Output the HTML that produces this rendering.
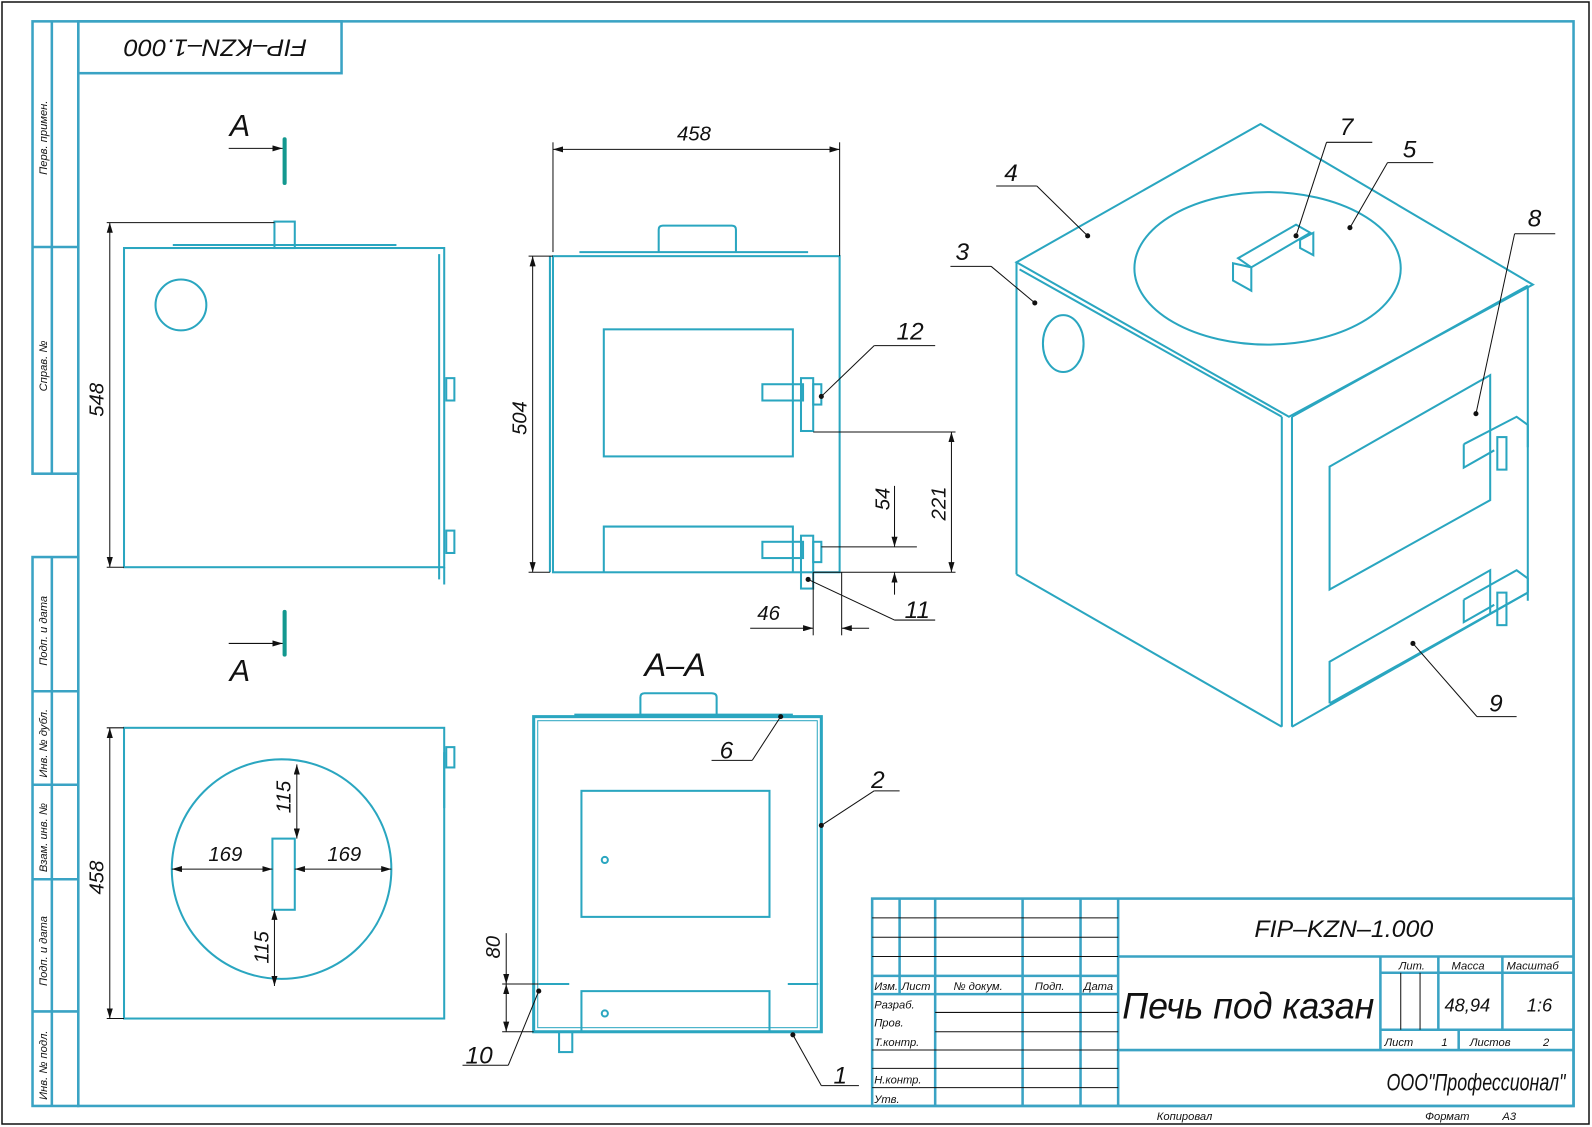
<!DOCTYPE html>
<html><head><meta charset="utf-8"><style>
html,body{margin:0;padding:0;background:#fff}
svg{display:block}
text{font-family:"Liberation Sans","DejaVu Sans",sans-serif;font-style:italic;fill:#111}
</style></head><body>
<svg width="1592" height="1127" viewBox="0 0 1592 1127" xmlns="http://www.w3.org/2000/svg">
<rect x="2" y="2" width="1587" height="1122" fill="none" stroke="#111" stroke-width="1.5"/>
<g transform="scale(1.0165)">
<defs>
<marker id="ar" viewBox="0 0 10 6" refX="10" refY="3" markerWidth="10" markerHeight="6" orient="auto-start-reverse" markerUnits="userSpaceOnUse"><path d="M0,0 L10,3 L0,6 Z" fill="#111"/></marker>
</defs>
<g fill="none" stroke="#3aa3c4" stroke-width="2.5">
<rect x="77" y="21" width="1471" height="1067"/>
<rect x="32" y="21" width="45" height="445"/>
<line x1="51" y1="21" x2="51" y2="466"/>
<line x1="32" y1="243" x2="77" y2="243"/>
<rect x="32" y="548" width="45" height="540"/>
<line x1="51" y1="548" x2="51" y2="1088"/>
<line x1="32" y1="680" x2="77" y2="680"/>
<line x1="32" y1="772" x2="77" y2="772"/>
<line x1="32" y1="865" x2="77" y2="865"/>
<line x1="32" y1="995" x2="77" y2="995"/>
<rect x="77" y="21" width="259" height="51"/>
<rect x="858" y="884" width="690" height="204"/>
<line x1="1100" y1="884" x2="1100" y2="1088"/>
<line x1="885" y1="884" x2="885" y2="978"/>
<line x1="920" y1="884" x2="920" y2="1088"/>
<line x1="1006" y1="884" x2="1006" y2="1088"/>
<line x1="1063" y1="884" x2="1063" y2="1088"/>
<line x1="858" y1="960" x2="1100" y2="960"/>
<line x1="858" y1="978" x2="1100" y2="978"/>
<line x1="1100" y1="941" x2="1548" y2="941"/>
<line x1="1100" y1="1033" x2="1548" y2="1033"/>
<line x1="1358" y1="941" x2="1358" y2="1033"/>
<line x1="1358" y1="957" x2="1548" y2="957"/>
<line x1="1358" y1="1013" x2="1548" y2="1013"/>
<line x1="1415" y1="941" x2="1415" y2="1013"/>
<line x1="1478" y1="941" x2="1478" y2="1013"/>
<line x1="1435" y1="1013" x2="1435" y2="1033"/>
</g>
<g stroke="#111" stroke-width="1">
<line x1="858" y1="903" x2="1100" y2="903"/>
<line x1="858" y1="922" x2="1100" y2="922"/>
<line x1="858" y1="941" x2="1100" y2="941"/>
<line x1="920" y1="996" x2="1100" y2="996"/>
<line x1="920" y1="1015" x2="1100" y2="1015"/>
<line x1="858" y1="1033" x2="1100" y2="1033"/>
<line x1="858" y1="1051" x2="1100" y2="1051"/>
<line x1="858" y1="1070" x2="1100" y2="1070"/>
<line x1="1378" y1="957" x2="1378" y2="1013"/>
<line x1="1397" y1="957" x2="1397" y2="1013"/>
</g>
<g font-size="11">
<text x="860" y="974">Изм.</text><text x="887" y="974">Лист</text><text x="938" y="974">№ докум.</text><text x="1018" y="974">Подп.</text><text x="1066" y="974">Дата</text>
<text x="860" y="992">Разраб.</text><text x="860" y="1010">Пров.</text><text x="860" y="1029">Т.контр.</text>
<text x="860" y="1066">Н.контр.</text><text x="860" y="1085">Утв.</text>
<text x="1376" y="954">Лит.</text><text x="1428" y="954">Масса</text><text x="1482" y="954">Масштаб</text>
<text x="1362" y="1029">Лист</text><text x="1418" y="1029">1</text><text x="1446" y="1029">Листов</text><text x="1518" y="1029">2</text>
<text x="1138" y="1102">Копировал</text><text x="1402" y="1102">Формат</text><text x="1478" y="1102">А3</text>
</g>
<text x="1234" y="922" font-size="24" textLength="176" lengthAdjust="spacingAndGlyphs">FIP–KZN–1.000</text>
<text x="1104" y="1002" font-size="36" textLength="248" lengthAdjust="spacingAndGlyphs">Печь под казан</text>
<text x="1421" y="995" font-size="18">48,94</text>
<text x="1502" y="995" font-size="18">1:6</text>
<text x="1364" y="1073" font-size="24" textLength="176" lengthAdjust="spacingAndGlyphs">ООО"Профессионал"</text>
<text x="0" y="0" font-size="24" textLength="180" lengthAdjust="spacingAndGlyphs" transform="translate(302,39) rotate(180)">FIP–KZN–1.000</text>
<g font-size="11">
<text transform="translate(46,172) rotate(-90)">Перв. примен.</text>
<text transform="translate(46,385) rotate(-90)">Справ. №</text>
<text transform="translate(46,655) rotate(-90)">Подп. и дата</text>
<text transform="translate(46,765) rotate(-90)">Инв. № дубл.</text>
<text transform="translate(46,858) rotate(-90)">Взам. инв. №</text>
<text transform="translate(46,970) rotate(-90)">Подп. и дата</text>
<text transform="translate(46,1082) rotate(-90)">Инв. № подл.</text>
</g>

<g fill="none" stroke="#2aa6c0" stroke-width="2">
<rect x="122" y="244" width="315" height="314"/>
<line x1="170" y1="241" x2="390" y2="241"/>
<rect x="270" y="218" width="20" height="26"/>
<circle cx="178" cy="300" r="25"/>
<line x1="432" y1="250" x2="432" y2="570"/>
<line x1="437" y1="558" x2="437" y2="575"/>
<rect x="439" y="372" width="8" height="22"/><rect x="439" y="522" width="8" height="22"/>
<rect x="122" y="716" width="315" height="286"/>
<circle cx="277" cy="855" r="108"/>
<rect x="268" y="825" width="22" height="70"/>
<rect x="439" y="735" width="8" height="20"/>
<line x1="437" y1="740" x2="437" y2="795"/>
<rect x="544" y="252" width="282" height="311"/>
<line x1="541" y1="252" x2="541" y2="563"/>
<line x1="570" y1="248" x2="795" y2="248"/>
<path d="M648,248 V226 Q648,222 652,222 H720 Q724,222 724,226 V248"/>
<rect x="594" y="324" width="186" height="125"/>
<path d="M594,563 V518 H780 V563"/>
<rect x="750" y="378" width="40" height="16"/><rect x="788" y="372" width="12" height="52"/><rect x="800" y="378" width="8" height="20"/>
<rect x="750" y="533" width="40" height="16"/><rect x="788" y="527" width="12" height="52"/><rect x="800" y="533" width="8" height="20"/>
<rect x="525" y="705" width="283" height="310" stroke-width="3"/>
<rect x="529" y="709" width="275" height="302" stroke-width="1"/>
<path d="M630,705 V686 Q630,682 634,682 H700 Q705,682 705,686 V705"/>
<line x1="565" y1="703" x2="780" y2="703"/>
<rect x="572" y="778" width="185" height="124"/>
<path d="M572,1015 V975 H757 V1015"/>
<rect x="550" y="1015" width="13" height="20"/>
<path d="M530,968 H560 M775,968 H805"/>
<circle cx="595" cy="846" r="3"/><circle cx="595" cy="997" r="3"/>
<polygon points="1240,122 1508,280 1268,410 1000,258"/>
<line x1="1003" y1="265" x2="1261" y2="410"/>
<line x1="1271" y1="410" x2="1503" y2="281"/>
<line x1="1000" y1="258" x2="1000" y2="565"/>
<line x1="1000" y1="565" x2="1261" y2="715"/>
<line x1="1261" y1="410" x2="1261" y2="715"/>
<line x1="1271" y1="410" x2="1271" y2="715"/>
<line x1="1271" y1="715" x2="1503" y2="583"/>
<line x1="1503" y1="281" x2="1503" y2="583"/>
<ellipse cx="1247" cy="264" rx="131" ry="75"/>
<ellipse cx="1046" cy="338" rx="20" ry="28"/>
<polygon points="1218,254 1275,221 1289,229 1231,263"/>
<polygon points="1213,259 1231,263 1231,286 1213,276"/>
<polygon points="1279,236 1292,229 1292,251 1279,244"/>
<polygon points="1308,459 1466,369 1466,492 1308,580"/>
<path d="M1308,692 V651 L1466,561 V603"/>
<line x1="1308" y1="692" x2="1503" y2="583"/>
<path d="M1440,437 L1492,410 L1503,418 V440 M1440,437 V460 L1470,443"/>
<rect x="1473" y="430" width="9" height="32"/>
<path d="M1440,590 L1492,561 L1503,569 V591 M1440,590 V612 L1470,595"/>
<rect x="1473" y="583" width="9" height="32"/>
</g>
<g stroke="#13988f" stroke-width="4" stroke-linecap="round"><line x1="280" y1="137" x2="280" y2="180"/><line x1="280" y1="602" x2="280" y2="644"/></g>
<g stroke="#111" stroke-width="1" fill="none">
<line x1="225" y1="146" x2="278" y2="146" marker-end="url(#ar)"/>
<line x1="225" y1="633" x2="278" y2="633" marker-end="url(#ar)"/>
<line x1="105" y1="219" x2="270" y2="219"/><line x1="105" y1="558" x2="122" y2="558"/>
<line x1="108" y1="219" x2="108" y2="558" marker-start="url(#ar)" marker-end="url(#ar)"/>
<line x1="105" y1="716" x2="122" y2="716"/><line x1="105" y1="1002" x2="122" y2="1002"/>
<line x1="108" y1="716" x2="108" y2="1002" marker-start="url(#ar)" marker-end="url(#ar)"/>
<line x1="169" y1="855" x2="268" y2="855" marker-start="url(#ar)" marker-end="url(#ar)"/>
<line x1="290" y1="855" x2="385" y2="855" marker-start="url(#ar)" marker-end="url(#ar)"/>
<line x1="292" y1="752" x2="292" y2="825" marker-start="url(#ar)" marker-end="url(#ar)"/>
<line x1="270" y1="895" x2="270" y2="970" marker-start="url(#ar)" marker-end="url(#ar)"/>
<line x1="544" y1="140" x2="544" y2="248"/><line x1="826" y1="140" x2="826" y2="252"/>
<line x1="544" y1="147" x2="826" y2="147" marker-start="url(#ar)" marker-end="url(#ar)"/>
<line x1="520" y1="252" x2="544" y2="252"/><line x1="520" y1="563" x2="541" y2="563"/>
<line x1="524" y1="252" x2="524" y2="563" marker-start="url(#ar)" marker-end="url(#ar)"/>
<line x1="800" y1="425" x2="940" y2="425"/><line x1="800" y1="563" x2="940" y2="563"/>
<line x1="936" y1="425" x2="936" y2="563" marker-start="url(#ar)" marker-end="url(#ar)"/>
<line x1="808" y1="538" x2="902" y2="538"/>
<line x1="880" y1="478" x2="880" y2="538" marker-end="url(#ar)"/>
<line x1="880" y1="585" x2="880" y2="563" marker-end="url(#ar)"/>
<line x1="800" y1="563" x2="800" y2="625"/><line x1="828" y1="563" x2="828" y2="625"/>
<line x1="738" y1="618" x2="800" y2="618" marker-end="url(#ar)"/>
<line x1="855" y1="618" x2="828" y2="618" marker-end="url(#ar)"/>
<line x1="808" y1="390" x2="860" y2="340"/><line x1="860" y1="340" x2="920" y2="340"/>
<line x1="795" y1="570" x2="880" y2="610"/><line x1="880" y1="610" x2="920" y2="610"/>
<line x1="494" y1="968" x2="530" y2="968"/><line x1="494" y1="1015" x2="525" y2="1015"/>
<line x1="498" y1="918" x2="498" y2="968" marker-end="url(#ar)"/>
<line x1="498" y1="1015" x2="498" y2="968" marker-end="url(#ar)" marker-start="url(#ar)"/>
<line x1="768" y1="705" x2="740" y2="748"/><line x1="740" y1="748" x2="700" y2="748"/>
<line x1="808" y1="812" x2="860" y2="778"/><line x1="860" y1="778" x2="885" y2="778"/>
<line x1="530" y1="975" x2="500" y2="1048"/><line x1="500" y1="1048" x2="455" y2="1048"/>
<line x1="780" y1="1018" x2="808" y2="1068"/><line x1="808" y1="1068" x2="845" y2="1068"/>
<line x1="1275" y1="232" x2="1305" y2="140"/><line x1="1305" y1="140" x2="1350" y2="140"/>
<line x1="1328" y1="224" x2="1365" y2="160"/><line x1="1365" y1="160" x2="1410" y2="160"/>
<line x1="1070" y1="232" x2="1020" y2="183"/><line x1="1020" y1="183" x2="980" y2="183"/>
<line x1="1018" y1="298" x2="975" y2="262"/><line x1="975" y1="262" x2="935" y2="262"/>
<line x1="1452" y1="407" x2="1490" y2="230"/><line x1="1490" y1="230" x2="1530" y2="230"/>
<line x1="1390" y1="633" x2="1453" y2="705"/><line x1="1453" y1="705" x2="1492" y2="705"/>
</g>
<g fill="#111">
<circle cx="1275" cy="232" r="2.5"/><circle cx="1328" cy="224" r="2.5"/><circle cx="1070" cy="232" r="2.5"/><circle cx="1018" cy="298" r="2.5"/><circle cx="1452" cy="407" r="2.5"/><circle cx="1390" cy="633" r="2.5"/>
<circle cx="808" cy="390" r="2.5"/><circle cx="795" cy="570" r="2.5"/><circle cx="768" cy="705" r="2.5"/><circle cx="808" cy="812" r="2.5"/><circle cx="530" cy="975" r="2.5"/><circle cx="780" cy="1018" r="2.5"/>
</g>
<g font-size="20">
<text x="226" y="134" font-style="normal" font-size="30">A</text>
<text x="226" y="670" font-style="normal" font-size="30">A</text>
<text x="634" y="665" font-style="normal" font-size="32">A–A</text>
<text x="666" y="138">458</text>
<text transform="translate(102,410) rotate(-90)">548</text>
<text transform="translate(102,880) rotate(-90)">458</text>
<text transform="translate(518,428) rotate(-90)">504</text>
<text transform="translate(930,512) rotate(-90)">221</text>
<text transform="translate(875,502) rotate(-90)">54</text>
<text transform="translate(492,943) rotate(-90)">80</text>
<text transform="translate(286,800) rotate(-90)">115</text>
<text transform="translate(264,948) rotate(-90)">115</text>
<text x="205" y="847">169</text><text x="322" y="847">169</text>
<text x="745" y="610">46</text>
<text x="882" y="334" font-size="24">12</text>
<text x="890" y="608" font-size="24">11</text>
<text x="708" y="746" font-size="24">6</text>
<text x="857" y="775" font-size="24">2</text>
<text x="458" y="1046" font-size="24">10</text>
<text x="820" y="1066" font-size="24">1</text>
<text x="1318" y="133" font-size="24">7</text>
<text x="1380" y="155" font-size="24">5</text>
<text x="988" y="178" font-size="24">4</text>
<text x="940" y="256" font-size="24">3</text>
<text x="1503" y="223" font-size="24">8</text>
<text x="1465" y="700" font-size="24">9</text>
</g>
</g>
</svg>
</body></html>
